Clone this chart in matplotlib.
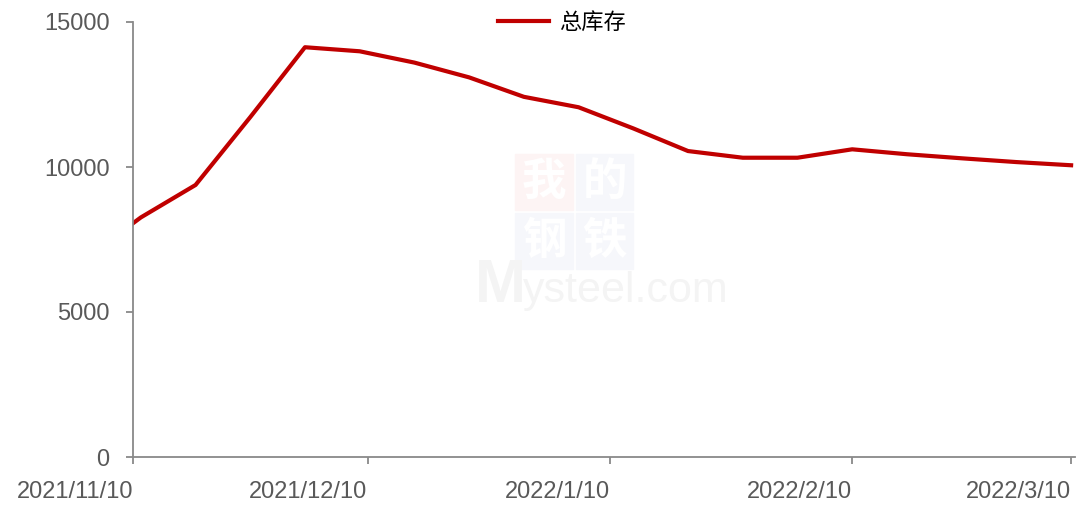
import numpy as np
import pandas as pd
import matplotlib
matplotlib.use("Agg")
import matplotlib.pyplot as plt
from matplotlib.patches import Rectangle

plt.rcParams['font.family'] = ['Liberation Sans', 'DejaVu Sans']

# weekly total inventory
dates = ['2021-11-10', '2021-11-11', '2021-11-18', '2021-11-25', '2021-12-02',
         '2021-12-09', '2021-12-16', '2021-12-23', '2021-12-30', '2022-01-06',
         '2022-01-13', '2022-01-20', '2022-01-27', '2022-02-03', '2022-02-10',
         '2022-02-17', '2022-02-24', '2022-03-03', '2022-03-10']
total_stock = [8060, 8260, 9380, 11720, 14130, 13990, 13600, 13090, 12420, 12060,
               11330, 10550, 10320, 10320, 10610, 10440, 10300, 10170, 10060]
tick_dates = ['2021-11-10', '2021-12-10', '2022-01-10', '2022-02-10', '2022-03-10']
tick_labels = ['2021/11/10', '2021/12/10', '2022/1/10', '2022/2/10', '2022/3/10']
y_ticks = [0, 5000, 10000, 15000]

x = pd.to_datetime(dates)

W, H = 1079, 505
fig = plt.figure(figsize=(W / 100, H / 100), dpi=100)
ax = fig.add_axes([133 / W, 1 - 457 / H, (1075 - 133) / W, (457 - 22) / H])
ax.patch.set_alpha(0)

# faint watermark behind the plot
def px_rect(x0, y0, x1, y1, color):
    fig.patches.append(Rectangle((x0 / W, 1 - y1 / H), (x1 - x0) / W, (y1 - y0) / H,
                                 transform=fig.transFigure, color=color, zorder=0))

boxes = [(515, 154, 573, 210, '#fdf4f4', '我'), (576, 154, 633, 210, '#f6f7fb', '的'),
         (515, 213, 573, 269, '#f6f7fb', '钢'), (576, 213, 633, 269, '#f6f7fb', '铁')]
for x0, y0, x1, y1, c, ch in boxes:
    px_rect(x0, y0, x1, y1, c)
    fig.text((x0 + x1) / 2 / W, 1 - (y0 + y1) / 2 / H, ch, color='white', fontsize=32,
             ha='center', va='center', family=['Noto Sans CJK SC'], fontweight='bold', zorder=0)
fig.text(475 / W, 1 - 302 / H, 'M', color='#f4f4f4', fontsize=44, fontweight='bold',
         ha='left', va='baseline', zorder=0)
fig.text(523 / W, 1 - 302 / H, 'ysteel.com', color='#f4f4f4', fontsize=31,
         ha='left', va='baseline', zorder=0)

ax.plot(x, total_stock, color='#c00000', lw=3.0, label='总库存')

ax.set_xlim(pd.Timestamp('2021-11-10'), pd.Timestamp('2022-03-10 12:00'))
ax.set_ylim(0, 15000)
ax.set_yticks(y_ticks)
ax.set_xticks(pd.to_datetime(tick_dates))
ax.set_xticklabels(tick_labels, ha='right')

for s in ['top', 'right']:
    ax.spines[s].set_visible(False)
for s in ['left', 'bottom']:
    ax.spines[s].set_color('#898989')
    ax.spines[s].set_linewidth(1.3)

ax.tick_params(axis='y', length=5, width=1.3, color='#898989', labelsize=17,
               labelcolor='#595959', pad=12)
ax.tick_params(axis='x', length=5, width=1.3, color='#898989', labelsize=17,
               labelcolor='#595959', pad=12)

leg = ax.legend(loc='center', frameon=False,
                prop={'family': ['Noto Sans CJK SC'], 'size': 16}, handlelength=2.3,
                handletextpad=0.45, borderpad=0)
leg.set_bbox_to_anchor((562 / W, 1 - 22 / H), transform=fig.transFigure)
leg.get_lines()[0].set_linewidth(3.0)

fig.savefig('out.png', dpi=100)
